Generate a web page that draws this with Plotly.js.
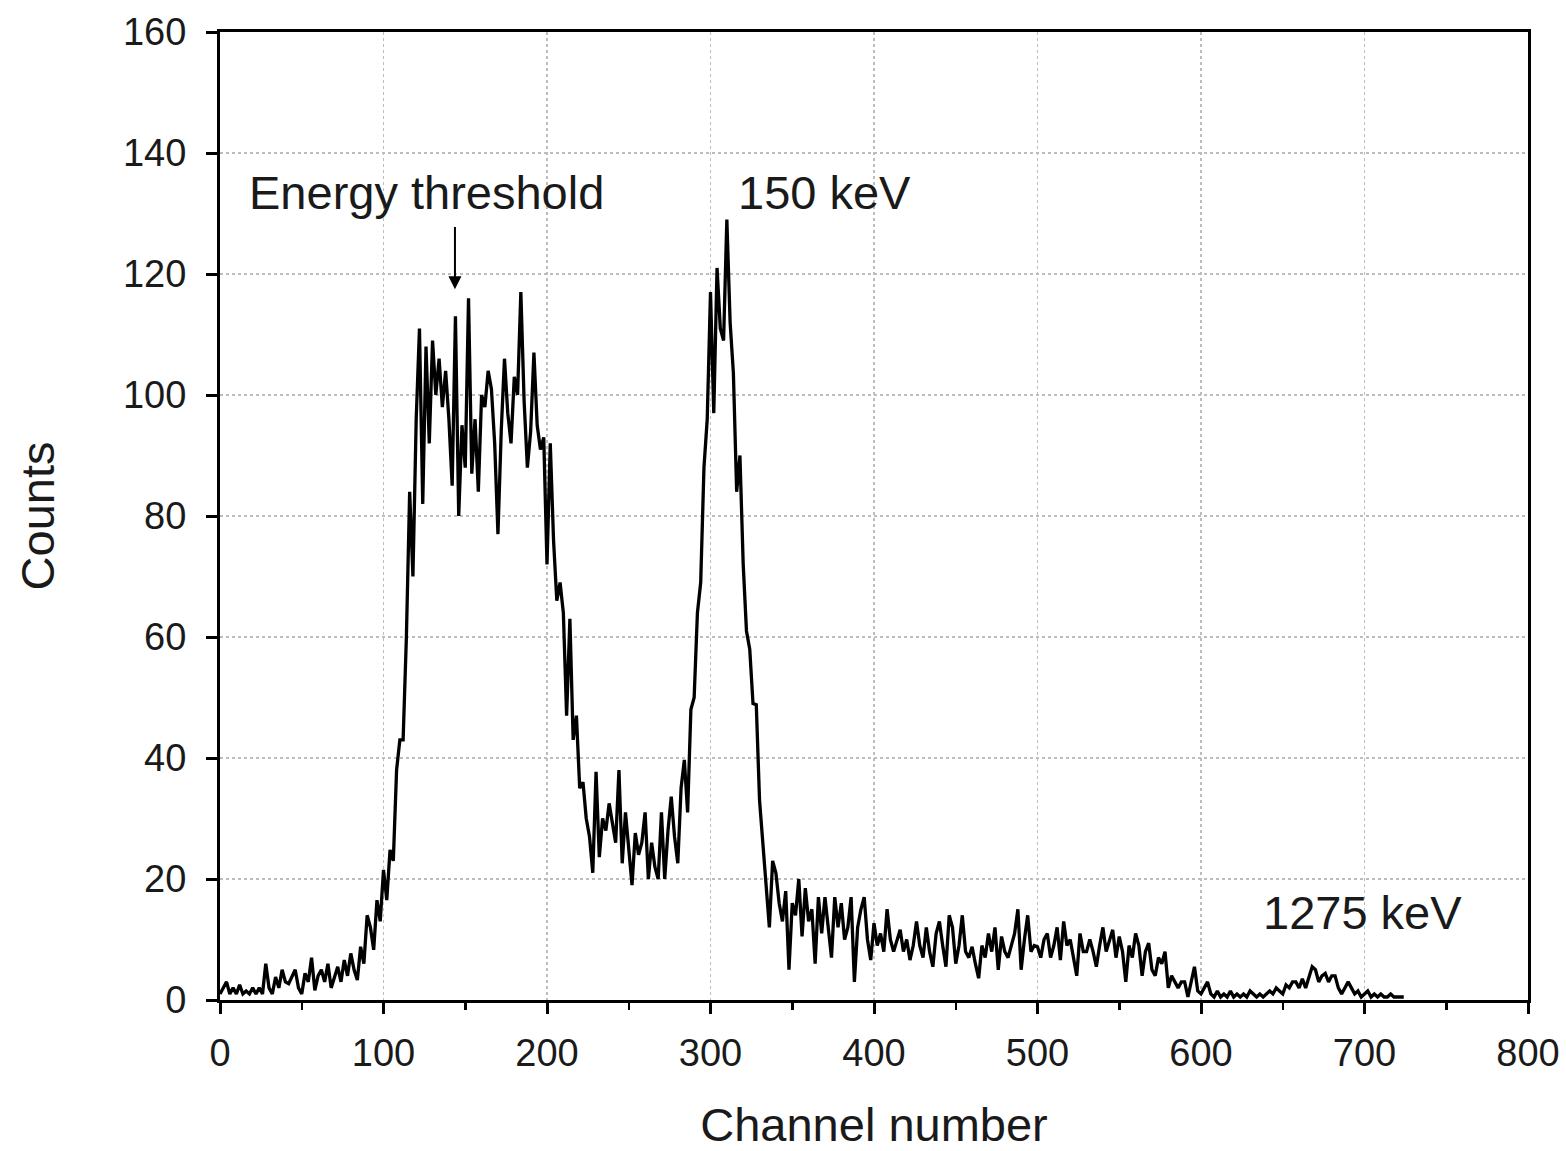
<!DOCTYPE html>
<html>
<head>
<meta charset="utf-8">
<script src="https://cdn.plot.ly/plotly-3.0.1.min.js"></script>
<style>html,body{margin:0;padding:0;background:#fff;}#chart{width:1566px;height:1151px;}</style>
</head>
<body>
<div id="chart"></div>
<script>
// Channel numbers start at 0 and go up in steps of 2
const channelStart = 0;
const channelStep = 2;
const counts = [
  1, 2, 3, 1, 2, 1, 2.5, 1, 1.5, 1, 2, 1, 2, 1, 6, 2, 1, 3.8, 2, 5,
  3, 2.7, 4, 5, 2, 1, 4.4, 3, 7, 1.6, 4, 5, 3, 6, 2, 4, 5.5, 3, 6.6, 4,
  7.7, 5, 3.3, 8.8, 6, 14, 12, 8.3, 16.5, 13, 21.5, 16.5, 24.8,
  23, 38, 43, 43, 60, 84, 70, 96, 111, 82, 108, 92, 109, 100, 106, 98, 104, 96,
  85, 113, 80, 95, 88, 116, 87, 96, 84, 100, 98, 104, 101, 92, 77, 94, 106, 97,
  92, 103, 100, 117, 99, 88, 94, 107, 95, 91, 93, 72, 92, 76, 66, 69, 64, 47,
  63, 43, 47, 35, 36, 30, 27, 21, 37.7, 23.6, 30, 28, 32.5, 29, 26, 38, 22.6, 31,
  25, 19, 27.6, 24, 26, 31, 20, 26, 22, 20, 31, 20, 28, 33.6, 27, 22.6, 35, 39.7,
  31, 48, 50, 64, 69, 88, 96, 117, 97, 121, 111, 109, 129, 112, 103.6, 84, 90, 72,
  61, 58, 49, 48.8, 33, 26, 20, 12, 23, 21, 16, 13, 18, 5, 16, 14, 20, 10.5,
  18.5, 13, 15, 6, 17, 11, 17, 12, 7, 17, 12, 16, 10, 12, 17, 3, 12, 15, 17, 10,
  6.6, 12.7, 9, 11, 8, 15, 10, 8, 10, 11.6, 8, 10, 6.6, 9, 13, 9, 7, 12, 8, 5.5,
  11, 13, 9, 5.5, 14, 12, 6, 9, 14, 8, 7, 8.8, 6, 3.6, 9, 7, 11, 8, 12, 5,
  10.5, 8, 7, 9, 11, 15, 5, 10, 14, 8, 9, 8.8, 7, 10, 11, 7, 9, 12, 6.6, 13,
  9, 10, 7, 4, 11, 8, 8, 10, 8, 5.5, 9, 12, 8, 10, 11.6, 7, 10.5, 8, 3, 9,
  7, 11, 9, 4, 8, 9.4, 5, 4, 7, 6, 8, 2, 4, 3, 2, 3, 3, 0.5, 3, 5.5,
  1.5, 1, 2, 3, 1, 0.5, 1.5, 0.5, 1, 0.5, 1.5, 0.5, 1, 0.5, 1, 0.5, 1.5, 1, 0.5, 1,
  0.5, 1, 1.5, 1, 2, 1.5, 1, 2.5, 2, 3, 3, 2, 3.5, 2, 4, 5.5, 5, 3, 4, 4.4,
  3, 4, 4, 2, 1, 2, 3, 2, 1, 1.5, 0.5, 1, 1.5, 0.5, 1, 0.5, 1, 0.5, 0.5, 1,
  0.5, 0.5, 0.5, 0.5
];
const channels = counts.map((_, i) => channelStart + i * channelStep);

const xTicks = [0, 100, 200, 300, 400, 500, 600, 700, 800];
const yTicks = [0, 20, 40, 60, 80, 100, 120, 140, 160];

const labels = [
  {text: "Energy threshold", x: 126, y: 133.5},
  {text: "150 keV", x: 369.5, y: 133.4},
  {text: "1275 keV", x: 698.5, y: 14.5}
];
const thresholdArrow = {x: 143.7, y: 117.5, tailY: 128};

const font = "Liberation Sans, Arial, sans-serif";

const annotations = labels.map(l => ({
  x: l.x, y: l.y, xref: 'x', yref: 'y', text: l.text, showarrow: false,
  font: {family: font, size: 47, color: '#1a1a1a'}, xanchor: 'center', yanchor: 'middle'
}));
annotations.push({
  x: thresholdArrow.x, y: thresholdArrow.y, xref: 'x', yref: 'y',
  axref: 'x', ayref: 'y', ax: thresholdArrow.x, ay: thresholdArrow.tailY,
  text: '', showarrow: true, arrowhead: 2, arrowsize: 1.3, arrowwidth: 2, arrowcolor: '#000'
});

const axisCommon = {
  showline: true, linecolor: '#000', linewidth: 3, mirror: true,
  ticks: 'outside', ticklen: 11, tickwidth: 3, tickcolor: '#000',
  showgrid: true, gridcolor: '#bdbdbd', gridwidth: 1.5, griddash: 'dot',
  zeroline: false,
  tickfont: {family: font, size: 38, color: '#1a1a1a'}
};

const layout = {
  width: 1566, height: 1151,
  margin: {l: 220, r: 38, t: 32, b: 151},
  paper_bgcolor: '#fff', plot_bgcolor: '#fff',
  showlegend: false,
  xaxis: Object.assign({}, axisCommon, {
    range: [0, 800], tickmode: 'array', tickvals: xTicks, ticktext: xTicks.map(String),
    ticklabelstandoff: 6,
    minor: {ticks: 'outside', tickvals: [50, 150, 250, 350, 450, 550, 650, 750], ticklen: 7, tickwidth: 2.5, tickcolor: '#000', showgrid: false},
    title: {text: 'Channel number', standoff: 36, font: {family: font, size: 47, color: '#1a1a1a'}}
  }),
  yaxis: Object.assign({}, axisCommon, {
    range: [0, 160], tickmode: 'array', tickvals: yTicks, ticktext: yTicks.map(String),
    ticklabelstandoff: 12,
    title: {text: 'Counts', standoff: 54, font: {family: font, size: 47, color: '#1a1a1a'}}
  }),
  annotations: annotations
};

Plotly.newPlot('chart', [{
  x: channels, y: counts, type: 'scatter', mode: 'lines',
  line: {color: '#000', width: 3.3}
}], layout, {staticPlot: true});
</script>
</body>
</html>
